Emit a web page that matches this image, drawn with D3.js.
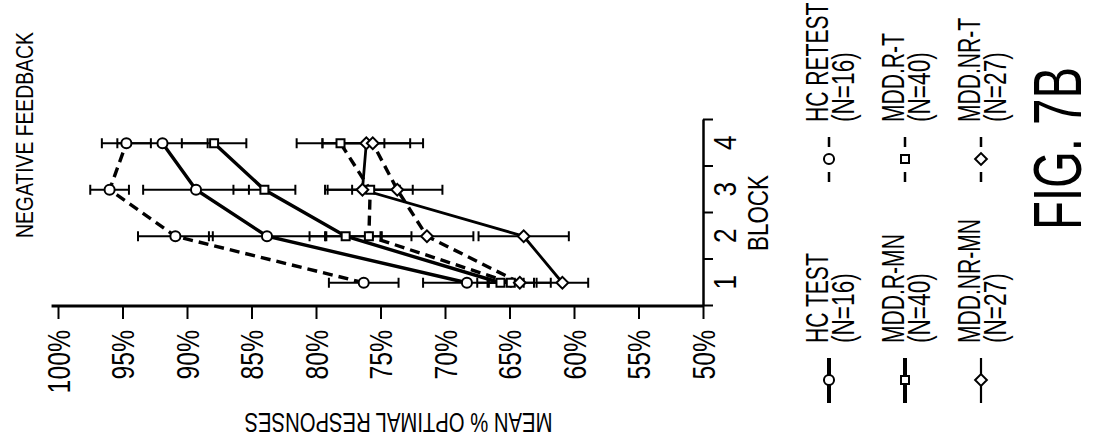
<!DOCTYPE html>
<html>
<head>
<meta charset="utf-8">
<script src="https://cdn.jsdelivr.net/npm/d3@7"></script>
<style>
  html, body { margin: 0; padding: 0; background: #fff; }
  svg { display: block; }
  text { font-family: "Liberation Sans", Arial, sans-serif; fill: #000; }
</style>
</head>
<body>
<svg id="chart" width="1096" height="440"></svg>
<script>
// block numbers and axis ticks
const blocks = [1, 2, 3, 4];
const blockEdges = [0.5, 1.5, 2.5, 3.5, 4.5];
const pctTicks = [100, 95, 90, 85, 80, 75, 70, 65, 60, 55, 50];

// mean % optimal responses per block, and error bar half widths
const hcTest = [68.3, 83.8, 89.3, 91.9];
const hcTestErr = [3.4, 4.5, 4.1, 3.5];
const hcRetest = [76.3, 90.9, 96.0, 94.7];
const hcRetestErr = [2.7, 2.9, 1.5, 1.9];
const mddRMn = [65.7, 77.7, 84.0, 87.9];
const mddRMnErr = [1.8, 2.8, 2.4, 2.5];
const mddRT = [64.9, 75.9, 75.8, 78.1];
const mddRTErr = [1.8, 3.3, 3.3, 3.4];
const mddNrMn = [60.9, 63.9, 76.4, 76.1];
const mddNrMnErr = [2.0, 3.5, 2.9, 3.4];
const mddNrT = [64.2, 71.4, 73.7, 75.6];
const mddNrTErr = [2.4, 3.6, 3.5, 3.9];

const seriesNames = ["HC TEST", "HC RETEST", "MDD.R-MN", "MDD.R-T", "MDD.NR-MN", "MDD.NR-T"];
const seriesN = ["(N=16)", "(N=16)", "(N=40)", "(N=40)", "(N=27)", "(N=27)"];

const seriesValues = [hcTest, hcRetest, mddRMn, mddRT, mddNrMn, mddNrT];
const seriesErrs = [hcTestErr, hcRetestErr, mddRMnErr, mddRTErr, mddNrMnErr, mddNrTErr];
const markerTypes = [d3.symbolCircle, d3.symbolCircle, d3.symbolSquare, d3.symbolSquare, d3.symbolDiamond2, d3.symbolDiamond2];
const markerSizes = [80, 80, 64, 64, 88, 88];

const series = seriesNames.map((name, i) => ({
  name: name,
  n: seriesN[i],
  dashed: i % 2 === 1,
  col: Math.floor(i / 2),
  width: i === 4 ? 2.8 : 3.4,
  legendWidth: i === 4 ? 2.2 : 4,
  symbol: d3.symbol().type(markerTypes[i]).size(markerSizes[i]),
  points: blocks.map((b, j) => ({ block: b, value: seriesValues[i][j], err: seriesErrs[i][j] }))
}));

// the figure uses a condensed face: squeeze text along its line with a scale
function condense(sel, k) {
  sel.each(function () {
    const t = d3.select(this);
    const x0 = +t.attr("x") || 0;
    const before = t.attr("transform") || "";
    t.attr("x", x0 / k).attr("transform", (before + ` scale(${k},1)`).trim());
  });
}

// squeeze a text so it runs a given length
function fitLength(sel, target) {
  sel.each(function () {
    const k = target / this.getComputedTextLength();
    d3.select(this).call(condense, k);
  });
}

const svg = d3.select("#chart");
// the figure is drawn upright, then turned a quarter turn like the page
const frame = svg.append("g").attr("transform", "translate(0,440) rotate(-90)");

const x = d3.scaleLinear().domain([0.5, 4.5]).range([134, 320]);
const y = d3.scaleLinear().domain([50, 100]).range([703, 58]);

// title
frame.append("text")
  .attr("x", 202)
  .attr("y", 33)
  .attr("font-size", 24)
  .text("NEGATIVE FEEDBACK")
  .call(fitLength, 206);

// y axis
const yAxis = frame.append("g")
  .attr("transform", `translate(${x(0.5)},0)`)
  .call(d3.axisLeft(y).tickValues(pctTicks).tickSize(13).tickPadding(11).tickFormat(d => d + "%"));
yAxis.attr("font-size", 31).attr("font-family", null);
yAxis.select(".domain").remove();
yAxis.selectAll(".tick line").attr("stroke", "#000").attr("stroke-width", 2);
yAxis.selectAll(".tick text").attr("fill", "#000").attr("dy", "0.36em").call(condense, 0.8);

frame.append("line")
  .attr("x1", x(0.5)).attr("x2", x(0.5))
  .attr("y1", y(50)).attr("y2", y(100.5))
  .attr("stroke", "#000").attr("stroke-width", 3);

frame.append("text")
  .attr("transform", `translate(27,${y(75) + 18}) rotate(-90)`)
  .attr("text-anchor", "middle")
  .attr("font-size", 28)
  .text("MEAN % OPTIMAL RESPONSES")
  .call(fitLength, 308);

// block axis
const xAxis = frame.append("g")
  .attr("transform", `translate(0,${y(50)})`)
  .call(d3.axisBottom(x).tickValues(blockEdges).tickSize(10).tickSizeOuter(0).tickFormat(""));
xAxis.select(".domain").attr("stroke", "#000").attr("stroke-width", 2.5);
xAxis.selectAll(".tick line").attr("stroke", "#000").attr("stroke-width", 2);

const xLabels = frame.append("g")
  .attr("transform", `translate(0,${y(50)})`)
  .call(d3.axisBottom(x).tickValues(blocks).tickSize(0).tickPadding(11).tickFormat(d3.format("d")));
xLabels.attr("font-size", 31).attr("font-family", null);
xLabels.select(".domain").remove();
xLabels.selectAll(".tick text").attr("fill", "#000").call(condense, 0.85);

frame.append("text")
  .attr("x", x(2.5))
  .attr("y", 768)
  .attr("text-anchor", "middle")
  .attr("font-size", 29)
  .text("BLOCK")
  .call(fitLength, 76);

// error bars
const bars = frame.append("g").attr("stroke", "#000").attr("stroke-width", 2);
series.forEach(s => {
  s.points.forEach(p => {
    bars.append("line")
      .attr("x1", x(p.block)).attr("x2", x(p.block))
      .attr("y1", y(p.value - p.err)).attr("y2", y(p.value + p.err));
    [p.value - p.err, p.value + p.err].forEach(v => {
      bars.append("line")
        .attr("x1", x(p.block) - 5).attr("x2", x(p.block) + 5)
        .attr("y1", y(v)).attr("y2", y(v));
    });
  });
});

// lines
const line = d3.line().x(d => x(d.block)).y(d => y(d.value));
frame.append("g").selectAll("path")
  .data(series)
  .join("path")
  .attr("d", d => line(d.points))
  .attr("fill", "none")
  .attr("stroke", "#000")
  .attr("stroke-width", d => d.width)
  .attr("stroke-dasharray", d => d.dashed ? "10,6" : null);

// markers
series.forEach(s => {
  frame.append("g").selectAll("path")
    .data(s.points)
    .join("path")
    .attr("transform", d => `translate(${x(d.block)},${y(d.value)})`)
    .attr("d", s.symbol())
    .attr("fill", "#fff")
    .attr("stroke", "#000")
    .attr("stroke-width", 2);
});

// legend
const legendCols = [829, 905, 981];
const legend = frame.append("g").selectAll("g")
  .data(series)
  .join("g")
  .attr("transform", d => `translate(${d.dashed ? 258 : 37},${legendCols[d.col]})`);

legend.append("line")
  .attr("x1", 0).attr("x2", 45)
  .attr("stroke", "#000")
  .attr("stroke-width", d => d.dashed ? 2.5 : d.legendWidth)
  .attr("stroke-dasharray", d => d.dashed ? "10,25" : null);

legend.append("path")
  .attr("transform", "translate(23,0)")
  .attr("d", d => d.symbol())
  .attr("fill", "#fff")
  .attr("stroke", "#000")
  .attr("stroke-width", 2);

legend.append("text")
  .attr("x", 60)
  .attr("y", -1)
  .attr("font-size", 31)
  .text(d => d.name)
  .call(condense, 0.68);

legend.append("text")
  .attr("x", 60)
  .attr("y", 25)
  .attr("font-size", 31)
  .text(d => d.n)
  .call(condense, 0.73);

// figure label
frame.append("text")
  .attr("x", 210)
  .attr("y", 1081)
  .attr("font-size", 68)
  .text("FIG. 7B")
  .call(fitLength, 163);
</script>
</body>
</html>
